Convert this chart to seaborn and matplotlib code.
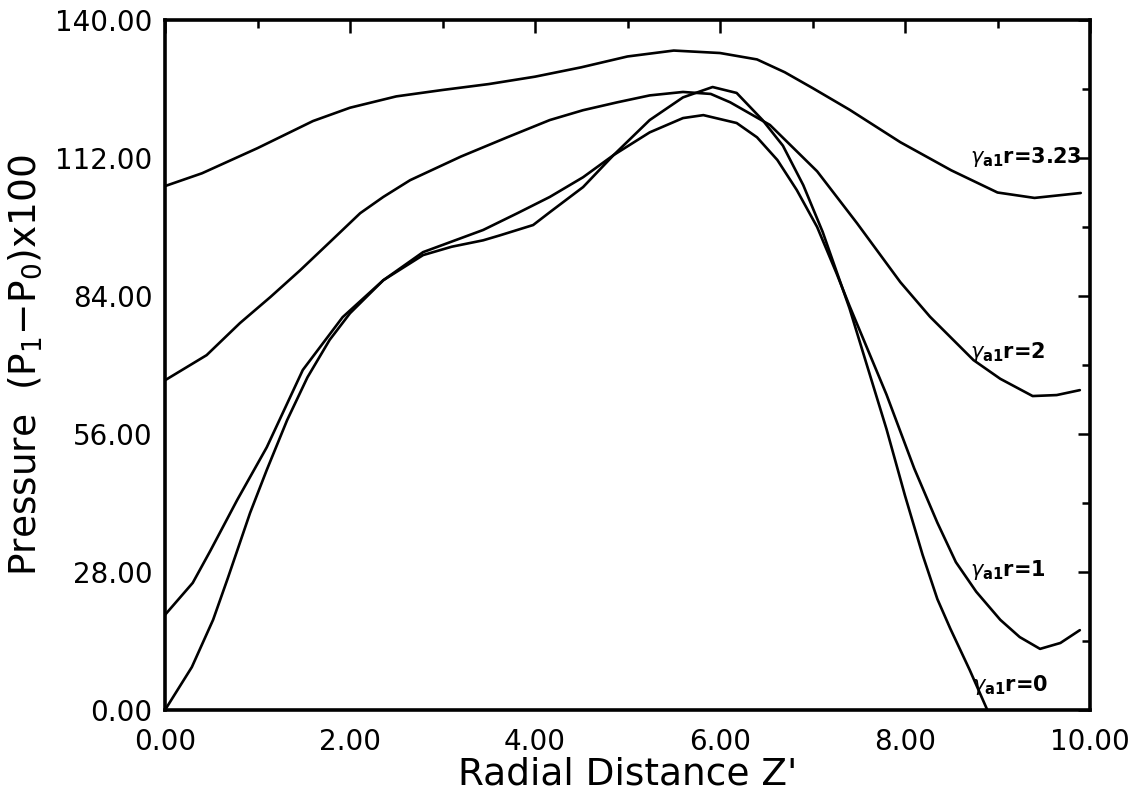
import matplotlib
matplotlib.use("Agg")
import matplotlib.pyplot as plt
import seaborn as sns
from matplotlib.ticker import MultipleLocator, FormatStrFormatter

# ---- data ----
x_g323 = [0, 0.4, 1.0, 1.6, 2.0, 2.5, 3.0, 3.5, 4.0, 4.5, 5.0, 5.5, 6.0, 6.4, 6.7, 7.0, 7.4, 7.95, 8.5, 9.0, 9.4, 9.9]
y_g323 = [106.3, 108.9, 114.0, 119.5, 122.2, 124.5, 125.8, 127.0, 128.5, 130.4, 132.6, 133.8, 133.3, 132.0, 129.4, 126.2, 121.8, 115.2, 109.5, 105.0, 103.9, 104.9]

x_g2 = [0, 0.45, 0.81, 1.14, 1.46, 1.78, 2.11, 2.36, 2.65, 3.2, 3.7, 4.16, 4.52, 4.89, 5.24, 5.6, 5.9, 6.11,
        6.54, 7.05, 7.48, 7.95, 8.27, 8.74, 9.03, 9.38, 9.64, 9.89]
y_g2 = [66.9, 72.0, 78.5, 83.8, 89.2, 94.9, 100.8, 104.1, 107.5, 112.3, 116.2, 119.7, 121.7, 123.3, 124.7, 125.4, 125.0, 123.3,
        118.7, 109.3, 98.8, 86.8, 79.8, 71.0, 67.2, 63.7, 63.9, 64.9]

x_g1 = [0, 0.30, 0.49, 0.78, 1.10, 1.49, 1.92, 2.36, 2.79, 3.44, 3.81, 4.16, 4.52, 4.85, 5.24, 5.6, 5.82, 6.18, 6.4,
        6.62, 6.83, 7.05, 7.26, 7.4, 7.8, 8.1, 8.35, 8.55, 8.77, 9.03, 9.24, 9.46, 9.68, 9.89]
y_g1 = [19.3, 25.8, 32.3, 42.6, 53.3, 69.0, 79.7, 87.2, 92.9, 97.4, 100.8, 104.1, 108.1, 112.6, 117.2, 120.1, 120.7, 119.1, 116.2,
        111.6, 105.5, 98.0, 88.6, 82.0, 64.0, 49.0, 38.0, 30.0, 24.0, 18.3, 14.8, 12.4, 13.6, 16.2]

x_g0 = [0, 0.29, 0.52, 0.68, 0.92, 1.10, 1.32, 1.54, 1.78, 2.0, 2.36, 2.79, 3.1, 3.44, 3.62, 3.98, 4.16, 4.52, 4.85,
        5.24, 5.6, 5.92, 6.18, 6.46, 6.68, 6.9, 7.11, 7.4, 7.8, 8.0, 8.19, 8.35, 8.49, 8.70, 8.89]
y_g0 = [0, 8.7, 18.3, 26.8, 40.0, 48.7, 58.8, 67.5, 75.1, 80.5, 87.2, 92.3, 94.0, 95.3, 96.3, 98.4, 101.0, 106.1, 112.6,
        119.7, 124.3, 126.4, 125.2, 119.7, 114.5, 106.5, 97.0, 81.5, 57.0, 43.5, 31.5, 22.5, 16.5, 8.1, 0]

labels = [r"$\gamma_{\mathbf{a1}}$r=3.23", r"$\gamma_{\mathbf{a1}}$r=2", r"$\gamma_{\mathbf{a1}}$r=1", r"$\gamma_{\mathbf{a1}}$r=0"]
label_x = [8.70, 8.70, 8.70, 8.72]
label_y = [112.2, 72.6, 28.4, 5.1]

x_ticks = [0, 2, 4, 6, 8, 10]
y_ticks = [0, 28, 56, 84, 112, 140]

# ---- figure ----
sns.set_style("white")
plt.rcParams['font.family'] = ['DejaVu Sans']
plt.rcParams['mathtext.fontset'] = 'dejavusans'
plt.rcParams['text.color'] = 'black'
plt.rcParams['axes.labelcolor'] = 'black'
plt.rcParams['xtick.color'] = 'black'
plt.rcParams['ytick.color'] = 'black'

fig = plt.figure(figsize=(11.43, 8.0), dpi=100)
ax = fig.add_axes([165/1143, 1 - 710/800, (1090-165)/1143, (710-20)/800])

for xs, ys in [(x_g323, y_g323), (x_g2, y_g2), (x_g1, y_g1), (x_g0, y_g0)]:
    sns.lineplot(x=xs, y=ys, ax=ax, color="black", linewidth=1.9, sort=False, estimator=None)

for t, lx, ly in zip(labels, label_x, label_y):
    ax.text(lx, ly, t, fontsize=15, fontweight="bold", ha="left", va="center", color="black")

ax.set_xlim(0, 10)
ax.set_ylim(0, 140)
ax.set_xticks(x_ticks)
ax.set_yticks(y_ticks)
ax.xaxis.set_minor_locator(MultipleLocator(1))
ax.yaxis.set_minor_locator(MultipleLocator(14))
ax.xaxis.set_major_formatter(FormatStrFormatter("%.2f"))
ax.yaxis.set_major_formatter(FormatStrFormatter("%.2f"))
ax.tick_params(which="both", direction="in", top=True, right=True, color="black", width=1.8)
ax.tick_params(which="major", length=9, labelsize=20, labelcolor="black")
ax.tick_params(which="minor", length=6)
ax.tick_params(axis="y", which="major", pad=9)
ax.tick_params(axis="x", which="major", pad=13)

for s in ax.spines.values():
    s.set_linewidth(2.6)
    s.set_color("black")

ax.set_xlabel("Radial Distance Z'", fontsize=27, labelpad=0)
ax.set_ylabel(r"Pressure  (P$_1$$-$P$_0$)x100", fontsize=27, labelpad=8)

fig.savefig("out.png", dpi=100, facecolor="white")
